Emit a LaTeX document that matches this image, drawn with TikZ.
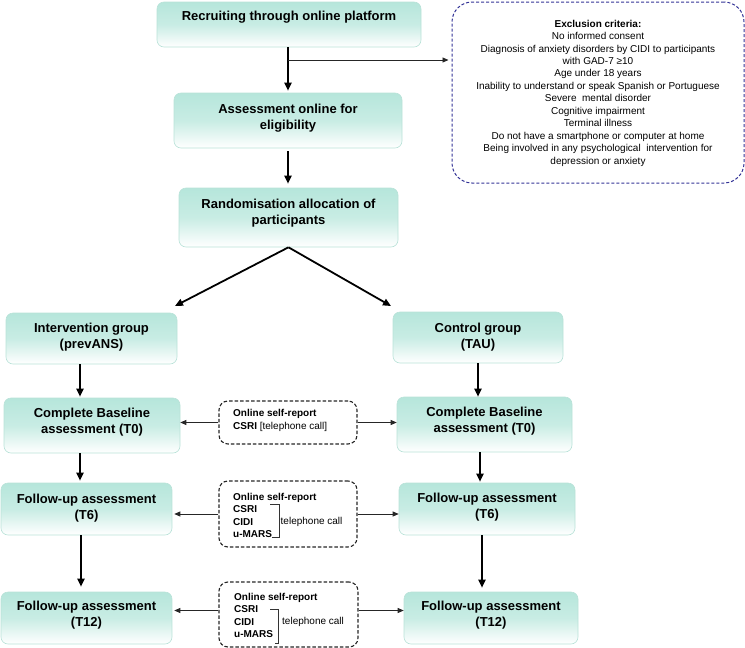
\documentclass[tikz,border=0pt]{standalone}
\usepackage{fontspec}
\setmainfont{Liberation Sans}
\usetikzlibrary{arrows.meta,calc}
\definecolor{mint}{RGB}{182,230,219}
\definecolor{mintline}{RGB}{185,226,216}
\definecolor{exblue}{RGB}{50,50,150}
\tikzset{
  mbox/.style={draw=mintline, line width=0.6pt, rounded corners=7pt,
    top color=mint, bottom color=white, middle color=mint!75!white, inner sep=0pt},
  mtext/.style={font=\fontsize{13}{16}\selectfont\bfseries, align=center, inner sep=0pt},
  dbox/.style={draw=black!85, line width=1.1pt, dash pattern=on 3.5pt off 2pt,
    rounded corners=9pt, inner sep=0pt},
  exbox/.style={draw=exblue, line width=1pt, dash pattern=on 3pt off 2pt,
    rounded corners=20pt, inner sep=0pt},
  dtext/.style={font=\fontsize{10}{12.6}\selectfont, align=left, inner sep=0pt, anchor=west},
  extext/.style={font=\fontsize{10}{12.45}\selectfont, align=center, inner sep=0pt},
  marrow/.style={line width=1.8pt, -{Triangle[length=8pt,width=7pt]}},
  sarrow/.style={line width=0.8pt, black!85, -{Triangle[length=6pt,width=5pt]}},
  brk/.style={line width=0.6pt, black!80},
}
\begin{document}
\begin{tikzpicture}[x=1pt,y=-1pt]
\useasboundingbox (0,0) rectangle (745,648);

% main boxes
\node[mbox, minimum width=264pt, minimum height=45pt] (recruit) at (289,24.5) {};
\node[mtext] (recruit-t) at (289,17) {Recruiting through online platform};

\node[mbox, minimum width=228pt, minimum height=55pt] (assess) at (288,120.5) {};
\node[mtext] (assess-t) at (288,118) {Assessment online for\\eligibility};

\node[mbox, minimum width=219pt, minimum height=59pt] (random) at (288.5,217.5) {};
\node[mtext] (random-t) at (288.5,213) {Randomisation allocation of\\participants};

\node[mbox, minimum width=171pt, minimum height=51pt] (interv) at (91.5,338.5) {};
\node[mtext] (interv-t) at (91.5,337.5) {Intervention group\\(prevANS)};

\node[mbox, minimum width=170pt, minimum height=51pt] (control) at (478,337.5) {};
\node[mtext] (control-t) at (478,337) {Control group\\(TAU)};

\node[mbox, minimum width=176pt, minimum height=55pt] (baseL) at (92,425.5) {};
\node[mtext] (baseL-t) at (92,422) {Complete Baseline\\assessment (T0)};

\node[mbox, minimum width=175pt, minimum height=55pt] (baseR) at (484.5,424.5) {};
\node[mtext] (baseR-t) at (484.5,421.5) {Complete Baseline\\assessment (T0)};

\node[mbox, minimum width=171pt, minimum height=52pt] (t6L) at (86.5,509) {};
\node[mtext] (t6L-t) at (86.5,508) {Follow-up assessment\\(T6)};

\node[mbox, minimum width=176pt, minimum height=52pt] (t6R) at (487,509) {};
\node[mtext] (t6R-t) at (487,507.5) {Follow-up assessment\\(T6)};

\node[mbox, minimum width=171pt, minimum height=52pt] (t12L) at (86.5,618) {};
\node[mtext] (t12L-t) at (86.5,615.5) {Follow-up assessment\\(T12)};

\node[mbox, minimum width=174pt, minimum height=52pt] (t12R) at (491,618) {};
\node[mtext] (t12R-t) at (491,615.5) {Follow-up assessment\\(T12)};

% exclusion box
\node[exbox, minimum width=292pt, minimum height=181pt] (excl) at (598,92.5) {};
\node[extext] (excl-t) at (598,93) {\textbf{Exclusion criteria:}\\
No informed consent\\
Diagnosis of anxiety disorders by CIDI to participants\\
with GAD-7 ≥10\\
Age under 18 years\\
Inability to understand or speak Spanish or Portuguese\\
Severe\ \ mental disorder\\
Cognitive impairment\\
Terminal illness\\
Do not have a smartphone or computer at home\\
Being involved in any psychological\ \ intervention for\\
depression or anxiety};

% dashed measurement boxes
\node[dbox, minimum width=138pt, minimum height=43pt] (d1) at (288,422.5) {};
\node[dtext] (d1-t) at (233,420.5) {\textbf{Online self-report}\\\textbf{CSRI} [telephone call]};

\node[dbox, minimum width=138pt, minimum height=66pt] (d2) at (288,514) {};
\node[dtext] (d2-t) at (233,515.5) {\textbf{Online self-report}\\\textbf{CSRI}\\\textbf{CIDI}\\\textbf{u-MARS}};
\draw[brk] (270,504) -- (279,504) -- (279,537) -- (272,537);
\node[dtext, font=\fontsize{10}{12}\selectfont] (d2-tel) at (280.5,522) {telephone call};

\node[dbox, minimum width=139pt, minimum height=65pt] (d3) at (288.5,614.5) {};
\node[dtext] (d3-t) at (234,615.5) {\textbf{Online self-report}\\\textbf{CSRI}\\\textbf{CIDI}\\\textbf{u-MARS}};
\draw[brk] (270,609) -- (278,609) -- (278,643) -- (275,643);
\node[dtext, font=\fontsize{10}{12}\selectfont] (d3-tel) at (282,622) {telephone call};

% column guides
\coordinate (colT) at (288,0);
\coordinate (branch) at (288,60);
\coordinate (colL) at (80,0);
\coordinate (colL2) at (81,0);
\coordinate (colR) at (478,0);
\coordinate (colR2) at (480,0);
\coordinate (colR3) at (482,0);
\coordinate (splitL) at (175,306);
\coordinate (splitR) at (391,306);

% main arrows
\draw[marrow] (recruit.south -| colT) -- ([yshift=2pt]assess.north -| colT);
\draw[sarrow] (branch) -- ([xshift=-3pt]excl.west |- branch);
\draw[marrow] ([yshift=-3pt]assess.south -| colT) -- ([yshift=4pt]random.north -| colT);
\draw[marrow] (random.south) -- (splitL);
\draw[marrow] (random.south) -- (splitR);
\draw[marrow] (interv.south -| colL) -- ([yshift=1pt]baseL.north -| colL);
\draw[marrow] (control.south -| colR) -- (baseR.north -| colR);
\draw[marrow] (baseL.south -| colL) -- ([yshift=2pt]t6L.north -| colL);
\draw[marrow] (baseR.south -| colR2) -- ([yshift=1pt]t6R.north -| colR2);
\draw[marrow] (t6L.south -| colL2) -- ([yshift=5pt]t12L.north -| colL2);
\draw[marrow] (t6R.south -| colR3) -- ([yshift=4pt]t12R.north -| colR3);

% side arrows
\draw[sarrow] (d1.west) -- (d1.west -| baseL.east);
\draw[sarrow] (d1.east) -- (d1.east -| baseR.west);
\draw[sarrow] (d2.west) -- ([xshift=2pt]d2.west -| t6L.east);
\draw[sarrow] (d2.east) -- (d2.east -| t6R.west);
\draw[sarrow] ([yshift=4pt]d3.west) -- ([xshift=2pt,yshift=4pt]d3.west -| t12L.east);
\draw[sarrow] ([yshift=4pt]d3.east) -- ([yshift=4pt]d3.east -| t12R.west);
\end{tikzpicture}
\end{document}
